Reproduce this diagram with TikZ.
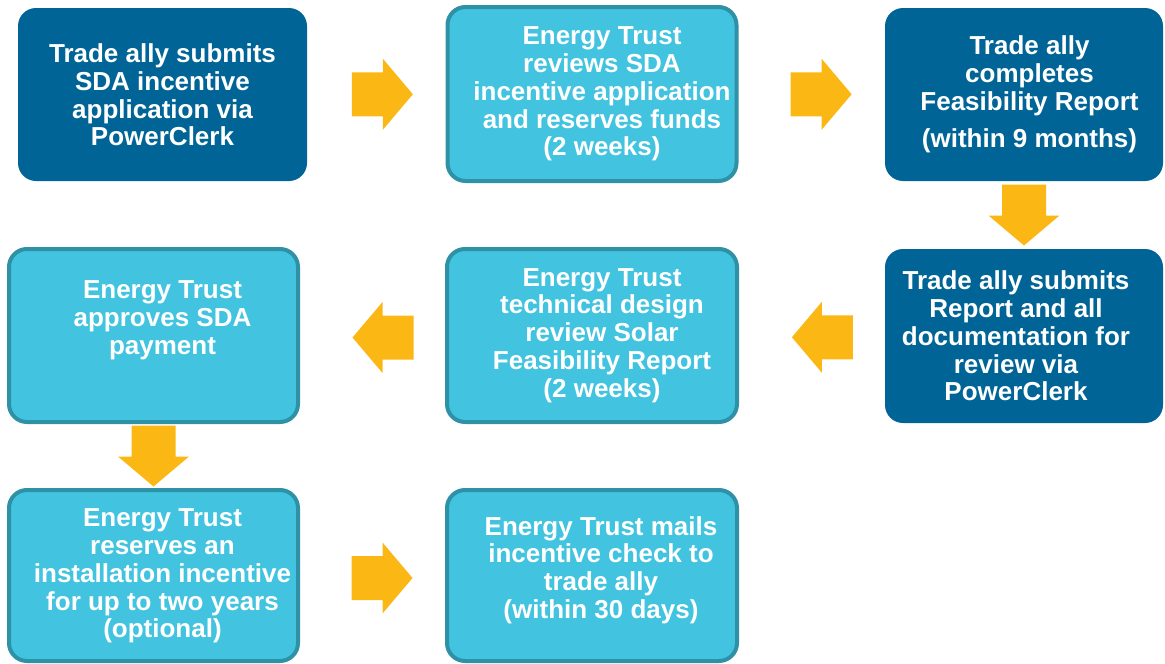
\documentclass[tikz,border=0pt]{standalone}
\usepackage{fontspec}
\setmainfont{Liberation Sans}
\usetikzlibrary{shapes,arrows,positioning,calc}

\definecolor{allyblue}{RGB}{0,101,150}
\definecolor{trustfill}{RGB}{66,195,223}
\definecolor{trustline}{RGB}{46,145,165}
\definecolor{flowgold}{RGB}{251,183,20}

\begin{document}
\begin{tikzpicture}[x=1pt,y=-1pt]
	\tikzstyle{Box}		= [rectangle, rounded corners=18pt, inner sep=0pt]
	\tikzstyle{Ally}	= [Box, fill=allyblue]
	\tikzstyle{Trust}	= [Box, fill=trustfill, draw=trustline, line width=4pt]
	\tikzstyle{Label}	= [text=white, font=\bfseries\fontsize{26}{27.8}\selectfont, align=center, inner sep=0pt]
	\tikzset{Flow/.pic={\fill[flowgold] (-30.5,-22) -- (0.5,-22) -- (0.5,-35.5) -- (30.5,0) -- (0.5,35.5) -- (0.5,22) -- (-30.5,22) -- cycle;}}

	\useasboundingbox (0,0) rectangle (1165,664);

	% the steps
	\node (s1) at (162.5,94.5) [Ally, minimum width=289pt, minimum height=173pt] {};
	\node (s2) at (592,94) [Trust, minimum width=289pt, minimum height=174pt] {};
	\node (s3) at (1024,94.5) [Ally, minimum width=278pt, minimum height=173pt] {};
	\node (s4) at (1024,336) [Ally, minimum width=278pt, minimum height=174pt] {};
	\node (s5) at (592,335.5) [Trust, minimum width=290pt, minimum height=173pt] {};
	\node (s6) at (153.5,335.5) [Trust, minimum width=289pt, minimum height=173pt] {};
	\node (s7) at (153.5,575.5) [Trust, minimum width=289pt, minimum height=171pt] {};
	\node (s8) at (592,575.5) [Trust, minimum width=290pt, minimum height=171pt] {};

	% their texts
	\node (t1) at ($(s1)+(0,0.5)$) [Label] {Trade ally submits\\SDA incentive\\application via\\PowerClerk};
	\node (t2) at ($(s2)+(10,0)$) [Label] {Energy Trust\\reviews SDA\\incentive application\\and reserves funds\\(2 weeks)};
	\node (t3) at ($(s3)+(5.5,0)$) [Label] {Trade ally\\completes\\Feasibility Report\\[10pt](within 9 months)};
	\node (t4) at ($(s4)+(-8,0)$) [Label] {Trade ally submits\\Report and all\\documentation for\\review via\\PowerClerk};
	\node (t5) at ($(s5)+(10,0)$) [Label] {Energy Trust\\technical design\\review Solar\\Feasibility Report\\(2 weeks)};
	\node (t6) at ($(s6)+(9,-15)$) [Label] {Energy Trust\\approves SDA\\payment};
	\node (t7) at ($(s7)+(9,0.5)$) [Label] {Energy Trust\\reserves an\\installation incentive\\for up to two years\\(optional)};
	\node (t8) at ($(s8)+(9,-5.5)$) [Label] {Energy Trust mails\\incentive check to\\trade ally\\(within 30 days)};

	% arrows between the steps
	\pic at ($(s1.east)!0.5!(s2.west)+(6,0)$) {Flow};
	\pic at ($(s2.east)!0.5!(s3.west)+(9.5,0)$) {Flow};
	\pic[rotate=-90] at ($(s3.south)!0.5!(s4.north)$) {Flow};
	\pic[rotate=180] at ($(s4.west)!0.5!(s5.east)+(10.5,1.5)$) {Flow};
	\pic[rotate=180] at ($(s5.west)!0.5!(s6.east)+(10.5,2)$) {Flow};
	\pic[rotate=-90] at ($(s6.south)!0.5!(s7.north)$) {Flow};
	\pic at ($(s7.east)!0.5!(s8.west)+(9.5,2.5)$) {Flow};

\end{tikzpicture}
\end{document}
